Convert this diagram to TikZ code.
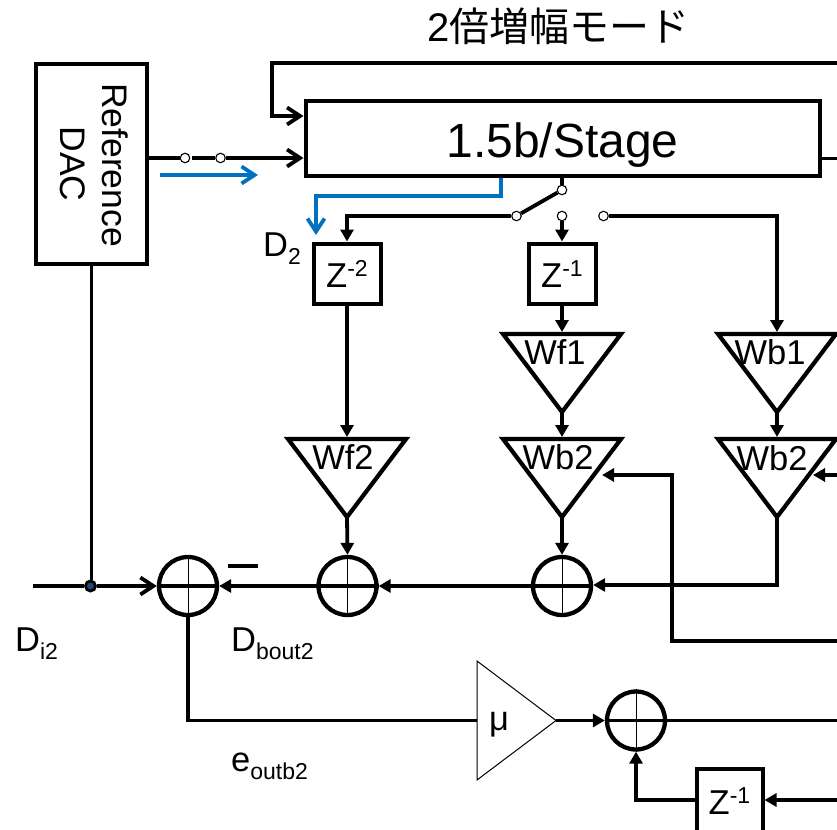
\documentclass[tikz,border=0pt]{standalone}
\usepackage{fontspec}
\setmainfont{Liberation Sans}
\newfontfamily\cjkfont{Noto Sans CJK JP}
\usetikzlibrary{arrows.meta}
\definecolor{sigblue}{HTML}{0070C0}
\definecolor{dotnavy}{HTML}{1F497D}
\newcommand{\fsmain}{\fontsize{34.5}{38}\selectfont}
\newcommand{\fssub}{\fontsize{23}{26}\selectfont}
\newcommand{\zlabel}[1]{{\fsmain Z\raisebox{11pt}{\fssub -#1}}}
\tikzset{
  wire/.style={line width=3.8pt,line join=miter},
  filledarrow/.style={wire,-{Triangle[length=12pt,width=13pt]}},
  openarrow/.style={wire,-{Straight Barb[length=13pt,width=17pt,line width=3.8pt]}},
  bluearrow/.style={openarrow,color=sigblue},
  blockbox/.style={draw,line width=4pt,rectangle,inner sep=0pt},
  zbox/.style={blockbox,minimum width=66pt,minimum height=60pt,text height=27pt,text depth=0pt},
  sumnode/.style={draw,circle,line width=4.3pt,minimum size=58pt,inner sep=0pt},
  contact/.style={draw,circle,fill=white,line width=1.1pt,minimum size=9.5pt,inner sep=0pt},
  amp/.style={draw,line width=4.2pt,line join=miter},
  txt/.style={inner sep=0pt,font=\fsmain},
  jdot/.style={draw,circle,fill=dotnavy,line width=2.8pt,minimum size=10pt,inner sep=0pt}
}
% triangle amplifier: name, centre x, top y
\newcommand{\ampTri}[3]{%
  \coordinate (#1-l) at (#2-59,#3);
  \coordinate (#1-r) at (#2+59,#3);
  \coordinate (#1-t) at (#2,#3-2);
  \coordinate (#1-a) at (#2,#3+78);
  \draw[amp] (#1-l) -- (#1-r) -- (#1-a) -- cycle;
}
\newcommand{\sumCross}[1]{%
  \draw[line width=1pt] (#1.north) -- (#1.south);
  \draw[wire] (#1.west) -- (#1.east);
}
\begin{document}
\begin{tikzpicture}[x=1pt,y=-1pt]
\useasboundingbox (0,0) rectangle (837,829);
\clip (0,0) rectangle (837,829);

% title
\node[txt,anchor=base west,font=\fontsize{40}{44}\selectfont] (title) at (427,42) {2{\cjkfont 倍増幅モード}};

% main blocks
\node[blockbox,minimum width=111pt,minimum height=200pt] (dac) at (91.5,164) {};
\node[inner sep=0pt,font=\fontsize{35.5}{38}\selectfont,rotate=-90,anchor=base] (dacref) at (102,165) {Reference};
\node[inner sep=0pt,font=\fontsize{35.5}{38}\selectfont,rotate=-90,anchor=base] (dacname) at (60,164) {DAC};
\node[blockbox,minimum width=514pt,minimum height=75pt,text height=39pt,text depth=0pt,font=\fontsize{48}{52}\selectfont] (stage) at (562.5,138.5) {1.5b/Stage};

% switch contacts
\node[contact] (inA) at (185,158) {};
\node[contact] (inB) at (220.5,158) {};
\node[contact] (swT) at (562,190) {};
\node[contact] (swA) at (516.5,216) {};
\node[contact] (swB) at (562,216) {};
\node[contact] (swC) at (603.5,216) {};

% delay blocks
\node[zbox,minimum width=67pt] (z2) at (347,273.5) {\zlabel{2}};
\node[zbox,minimum width=67pt] (z1) at (562,273.5) {\zlabel{1}};
\node[zbox,minimum width=66pt,minimum height=64pt] (z3) at (729.5,801) {\zlabel{1}};

% amplifiers
\ampTri{wf2}{347}{439}
\ampTri{wf1}{562}{334}
\ampTri{wbA}{562}{439}
\ampTri{wb1}{777}{334}
\ampTri{wbB}{777}{439}
\node[txt,anchor=base] (wf2t) at (343,469) {Wf2};
\node[txt,anchor=base] (wf1t) at (555,364) {Wf1};
\node[txt,anchor=base] (wbAt) at (558,469) {Wb2};
\node[txt,anchor=base] (wb1t) at (770,364) {Wb1};
\node[txt,anchor=base] (wbBt) at (772,470) {Wb2};

% summing nodes
\node[sumnode] (s1) at (188,586) {};
\node[sumnode] (s2) at (347.5,586) {};
\node[sumnode] (s3) at (562,586) {};
\node[sumnode] (s4) at (636,720.5) {};
\sumCross{s1}
\sumCross{s2}
\sumCross{s3}
\sumCross{s4}

% mu amplifier
\coordinate (muT) at (477,661);
\coordinate (muB) at (477,780);
\coordinate (muA) at (556,720.5);
\coordinate (muI) at (477,720.5);
\draw[line width=1pt,line join=miter] (muT) -- (muA) -- (muB) -- cycle;
\node[txt,anchor=base] (mut) at (499,730) {μ};

% free ends
\coordinate (loopR) at (837,63);
\coordinate (loopC) at (272,63);
\coordinate (loopD) at (272,116);
\coordinate (stageOut) at (837,159);
\coordinate (inGap) at (192,158);
\coordinate (blueS) at (160,175);
\coordinate (blueE) at (258,175);
\coordinate (blueStage) at (501,175);
\coordinate (blueM) at (501,196);
\coordinate (blueN) at (316,196);
\coordinate (blueZ) at (316,235);
\coordinate (inL) at (33,586);
\coordinate (corner) at (777,585);
\coordinate (fbR) at (837,641);
\coordinate (fbC) at (672,641);
\coordinate (fbT) at (672,475);
\coordinate (fbTipA) at (602,475);
\coordinate (fbInR) at (837,475);
\coordinate (fbTipB) at (813,475);
\coordinate (errC) at (188,720.5);
\coordinate (zIn) at (837,800);
\coordinate (zC) at (636,800);
\coordinate (s4Out) at (837,720.5);
\coordinate (swAC) at (347,216);
\coordinate (swCC) at (777,216);
\node[jdot] (junc) at (90.5,586) {};

% connectors
\draw[wire] (loopR) -- (loopC) -- (loopD) [openarrow] -- (stage.west |- loopD);
\draw[wire] (dac.east |- inA) -- (inA);
\draw[wire] (inGap) -- (inB);
\draw[openarrow] (inB) -- (stage.west |- inB);
\draw[wire,line width=3pt] (stage.east |- stageOut) -- (stageOut);
\draw[bluearrow] (blueS) -- (blueE);
\draw[bluearrow] (blueStage |- stage.south) -- (blueM) -- (blueN) -- (blueZ);
\draw[wire] (stage.south -| swT) -- (swT);
\draw[wire] (swT) -- (swA);
\draw[filledarrow] (swA) -- (swAC) -- (z2.north);
\draw[filledarrow] (swB) -- (z1.north);
\draw[filledarrow] (swC) -- (swCC) -- (wb1-t);
\draw[filledarrow] (z2.south) -- (wf2-t);
\draw[filledarrow] (z1.south) -- (wf1-t);
\draw[filledarrow] (wf1-a) -- (wbA-t);
\draw[filledarrow] (wb1-a) -- (wbB-t);
\draw[filledarrow] (wf2-a) -- (s2.north);
\draw[filledarrow] (wbA-a) -- (s3.north);
\draw[filledarrow] (wbB-a) -- (corner) -- (s3.east |- corner);
\draw[filledarrow] (s3.west) -- (s2.east);
\draw[filledarrow] (s2.west) -- (s1.east);
\draw[wire] (dac.south) -- (dac.south |- junc.north);
\draw[wire] (inL) -- (junc);
\draw[openarrow] (junc) -- (s1.west);
\draw[filledarrow] (fbR) -- (fbC) -- (fbT) -- (fbTipA);
\draw[filledarrow] (fbInR) -- (fbTipB);
\draw[wire] (s1.south) -- (errC) -- (muI);
\draw[filledarrow] (muA) -- (s4.west);
\draw[wire] (s4.east) -- (s4Out);
\draw[filledarrow] (zIn) -- (z3.east |- zIn);
\draw[filledarrow] (z3.west |- zC) -- (zC) -- (s4.south);

% minus sign
\coordinate (minusA) at (228,566);
\coordinate (minusB) at (258,566);
\draw[wire] (minusA) -- (minusB);

% labels
\node[txt,anchor=base west] (d2) at (263,256) {D\raisebox{-8pt}{\fssub 2}};
\node[txt,anchor=base west] (di2) at (15,651) {D\raisebox{-8pt}{\fssub i2}};
\node[txt,anchor=base west] (dbout) at (231,651) {D\raisebox{-8pt}{\fssub bout2}};
\node[txt,anchor=base west] (eout) at (231,771) {e\raisebox{-8pt}{\fssub outb2}};
\end{tikzpicture}
\end{document}
